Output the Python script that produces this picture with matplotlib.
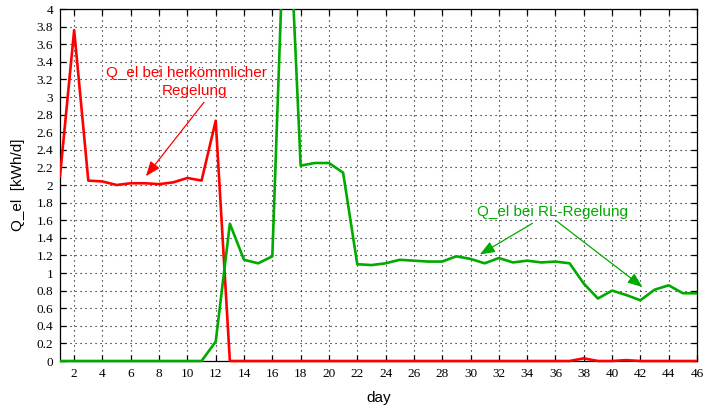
import matplotlib
matplotlib.use("Agg")
import matplotlib.pyplot as plt
from matplotlib.transforms import Bbox, TransformedBbox

days = list(range(1, 47))
q_conv = [2.10, 3.76, 2.05, 2.04, 2.00, 2.02, 2.02, 2.01, 2.03, 2.08,
          2.05, 2.73, 0.00, 0.00, 0.00, 0.00, 0.00, 0.00, 0.00, 0.00,
          0.00, 0.00, 0.00, 0.00, 0.00, 0.00, 0.00, 0.00, 0.00, 0.00,
          0.00, 0.00, 0.00, 0.00, 0.00, 0.00, 0.00, 0.03, 0.00, 0.00,
          0.01, 0.00, 0.00, 0.00, 0.00, 0.00]
q_rl = [0.00, 0.00, 0.00, 0.00, 0.00, 0.00, 0.00, 0.00, 0.00, 0.00,
        0.00, 0.22, 1.56, 1.15, 1.11, 1.19, 5.80, 2.22, 2.25, 2.25,
        2.14, 1.10, 1.09, 1.11, 1.15, 1.14, 1.13, 1.13, 1.19, 1.16,
        1.11, 1.17, 1.12, 1.14, 1.12, 1.13, 1.11, 0.88, 0.71, 0.80,
        0.75, 0.69, 0.81, 0.86, 0.77, 0.77]
xticks = list(range(2, 47, 2))
yticks = [i * 0.2 for i in range(21)]

RED = "#ff0000"
GREEN = "#00aa00"
SANS = "Liberation Sans"
SERIF = "Liberation Serif"

fig = plt.figure(figsize=(7.03, 4.05), dpi=100)
ax = fig.add_axes([60 / 703, 1 - 361 / 405, 637 / 703, 352 / 405])

clip = TransformedBbox(Bbox([[0, -0.02], [1, 1]]), ax.transAxes)
l1, = ax.plot(days, q_conv, color=RED, lw=1.9, zorder=3)
l2, = ax.plot(days, q_rl, color=GREEN, lw=1.9, zorder=3)
l1.set_clip_box(clip)
l2.set_clip_box(clip)

ax.set_xlim(1, 46)
ax.set_ylim(0, 4)
ax.set_xticks(xticks)
ax.set_yticks(yticks)
ax.set_xticklabels([str(t) for t in xticks], fontfamily=SERIF, fontsize=9.5)
ax.set_yticklabels(["%g" % round(t, 1) for t in yticks], fontfamily=SERIF, fontsize=9.5)
ax.tick_params(direction="in", length=4.5, width=0.9, top=True, right=True, pad=5)
ax.grid(True, color="black", linestyle=(0, (1, 3.5)), linewidth=0.8)
for s in ax.spines.values():
    s.set_linewidth(0.9)

ax.set_xlabel("day", fontfamily=SANS, fontsize=11, labelpad=8)
ax.set_ylabel("Q_el  [kWh/d]", fontfamily=SANS, fontsize=11, labelpad=8)

ax.text(9.95, 3.27, "Q_el bei herkömmlicher", color=RED, fontfamily=SANS,
        fontsize=11, ha="center", va="center")
ax.text(10.5, 3.07, "Regelung", color=RED, fontfamily=SANS,
        fontsize=11, ha="center", va="center")
ax.annotate("", xy=(7.07, 2.10), xytext=(11.17, 2.94),
            arrowprops=dict(arrowstyle="-|>,head_length=0.9,head_width=0.35",
                            color=RED, lw=0.9, shrinkA=0, shrinkB=0))

ax.text(35.8, 1.69, "Q_el bei RL-Regelung", color=GREEN, fontfamily=SANS,
        fontsize=11, ha="center", va="center")
ax.annotate("", xy=(30.66, 1.21), xytext=(34.38, 1.565),
            arrowprops=dict(arrowstyle="-|>,head_length=0.9,head_width=0.35",
                            color=GREEN, lw=0.9, shrinkA=0, shrinkB=0))
ax.annotate("", xy=(42.15, 0.84), xytext=(36.08, 1.59),
            arrowprops=dict(arrowstyle="-|>,head_length=0.9,head_width=0.35",
                            color=GREEN, lw=0.9, shrinkA=0, shrinkB=0))

fig.savefig("out.png", dpi=100)
